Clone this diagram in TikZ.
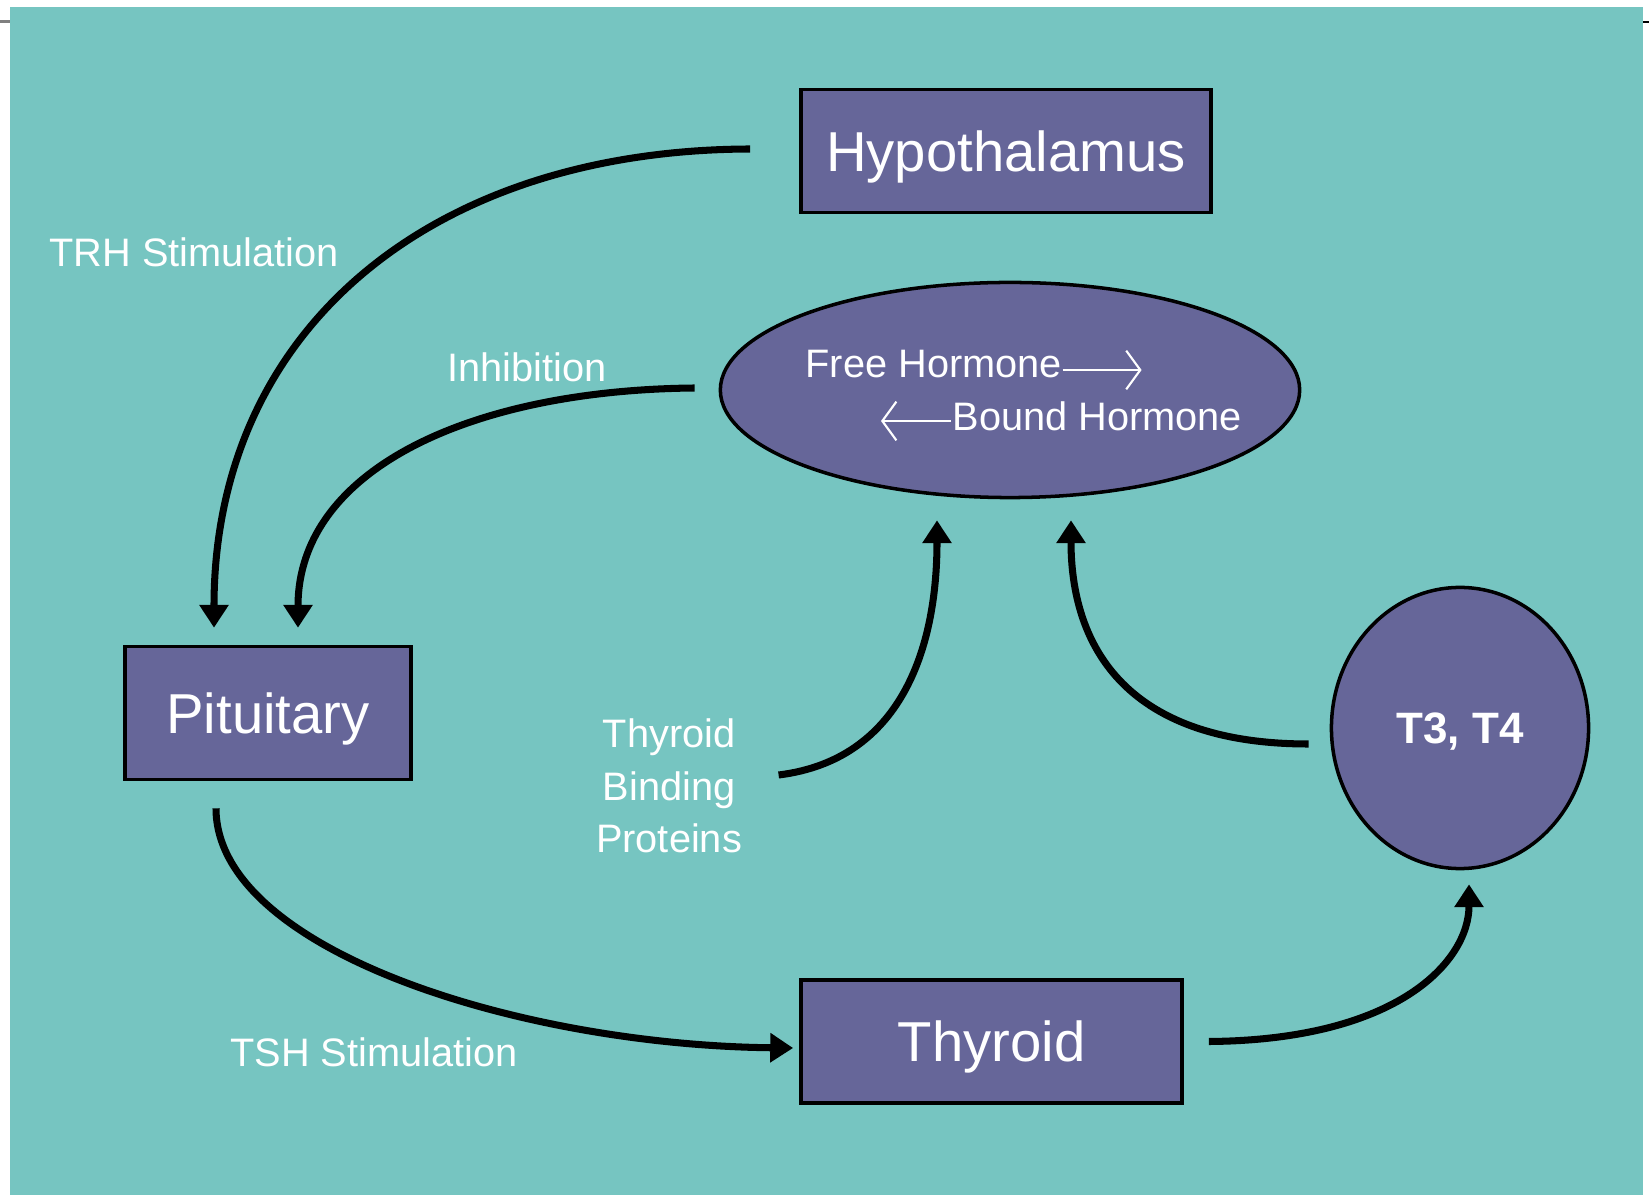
\documentclass[tikz,border=0pt]{standalone}
\usepackage{fontspec}
\setmainfont{Liberation Sans}
\usetikzlibrary{shapes.geometric,arrows.meta}
\definecolor{bgteal}{HTML}{76C5C1}
\definecolor{glandpurple}{HTML}{666699}

\begin{document}
\begin{tikzpicture}[x=0.01cm,y=-0.01cm]
	\tikzstyle{gland}=[draw=black,line width=1pt,fill=glandpurple,text=white,inner sep=0pt,text depth=0pt]
	\tikzstyle{boxfont}=[font=\fontsize{16}{19}\selectfont]
	\tikzstyle{note}=[text=white,inner sep=0pt,font=\fontsize{11.3}{15}\selectfont]
	\tikzstyle{feed}=[line width=2pt,-{Triangle[width=8pt,length=6.5pt]}]
	\tikzstyle{swap}=[white,line width=0.6pt,-{Straight Barb[length=4pt,width=11pt]}]
	\useasboundingbox (0,0) rectangle (1649,1195);
	\fill[bgteal] (10,7) rectangle (1643,1195);
	\draw[gray,line width=0.6pt] (0,21.5) -- (10,21.5);
	\draw[black,line width=0.6pt] (1643,22) -- (1649,22);

	\node[gland,boxfont,minimum width=4.1cm,minimum height=1.23cm] (hypo) at (1006,151) {Hypothalamus};
	\node[gland,boxfont,minimum width=2.86cm,minimum height=1.33cm] (pit) at (268,713) {Pituitary};
	\node[gland,boxfont,minimum width=3.81cm,minimum height=1.23cm] (thy) at (991.5,1041.5) {Thyroid};
	\node[gland,ellipse,minimum width=5.79cm,minimum height=2.15cm] (pool) at (1010,390) {};
	\node[gland,ellipse,minimum width=2.57cm,minimum height=2.81cm,font=\fontsize{12.5}{15}\selectfont\bfseries] (t34) at (1460,728) {T3, T4};

	\node[note,anchor=west] (free) at (805,364) {Free Hormone};
	\node[note,anchor=west] (bound) at (952,416) {Bound Hormone};
	\draw[swap] ([yshift=-0.6mm]free.east) -- ++(79,0);
	\draw[swap] ([shift={(-1,5)}]bound.west) -- ++(-70,0);

	\node[note,anchor=west] (trh) at (49,252) {TRH Stimulation};
	\node[note] (inh) at (527,367) {Inhibition};
	\node[note] (tsh) at (374,1052) {TSH Stimulation};
	\node[note,align=center] (tbp) at (669,786) {Thyroid\\Binding\\Proteins};

	\draw[feed] ([shift={(-49,-2)}]hypo.west) .. controls (430,150) and (214,330) .. ([shift={(-54,-17)}]pit.north);
	\draw[feed] ([shift={(-24,-2)}]pool.west) .. controls (470,390) and (298,470) .. ([shift={(30,-17)}]pit.north);
	\draw[feed] ([shift={(-52,27)}]pit.south) .. controls (216,950) and (520,1045) .. ([shift={(-6,6.5)}]thy.west);
	\draw[feed] ([shift={(25,0)}]thy.east) .. controls (1400,1040) and (1469,960) .. ([shift={(9,14)}]t34.south);
	\draw[feed] ([shift={(36,-11)}]tbp.east) .. controls (900,760) and (937,650) .. ([shift={(-73,21)}]pool.south);
	\draw[feed] ([shift={(-21,16)}]t34.west) .. controls (1120,744) and (1071,640) .. ([shift={(61,21)}]pool.south);
\end{tikzpicture}
\end{document}
